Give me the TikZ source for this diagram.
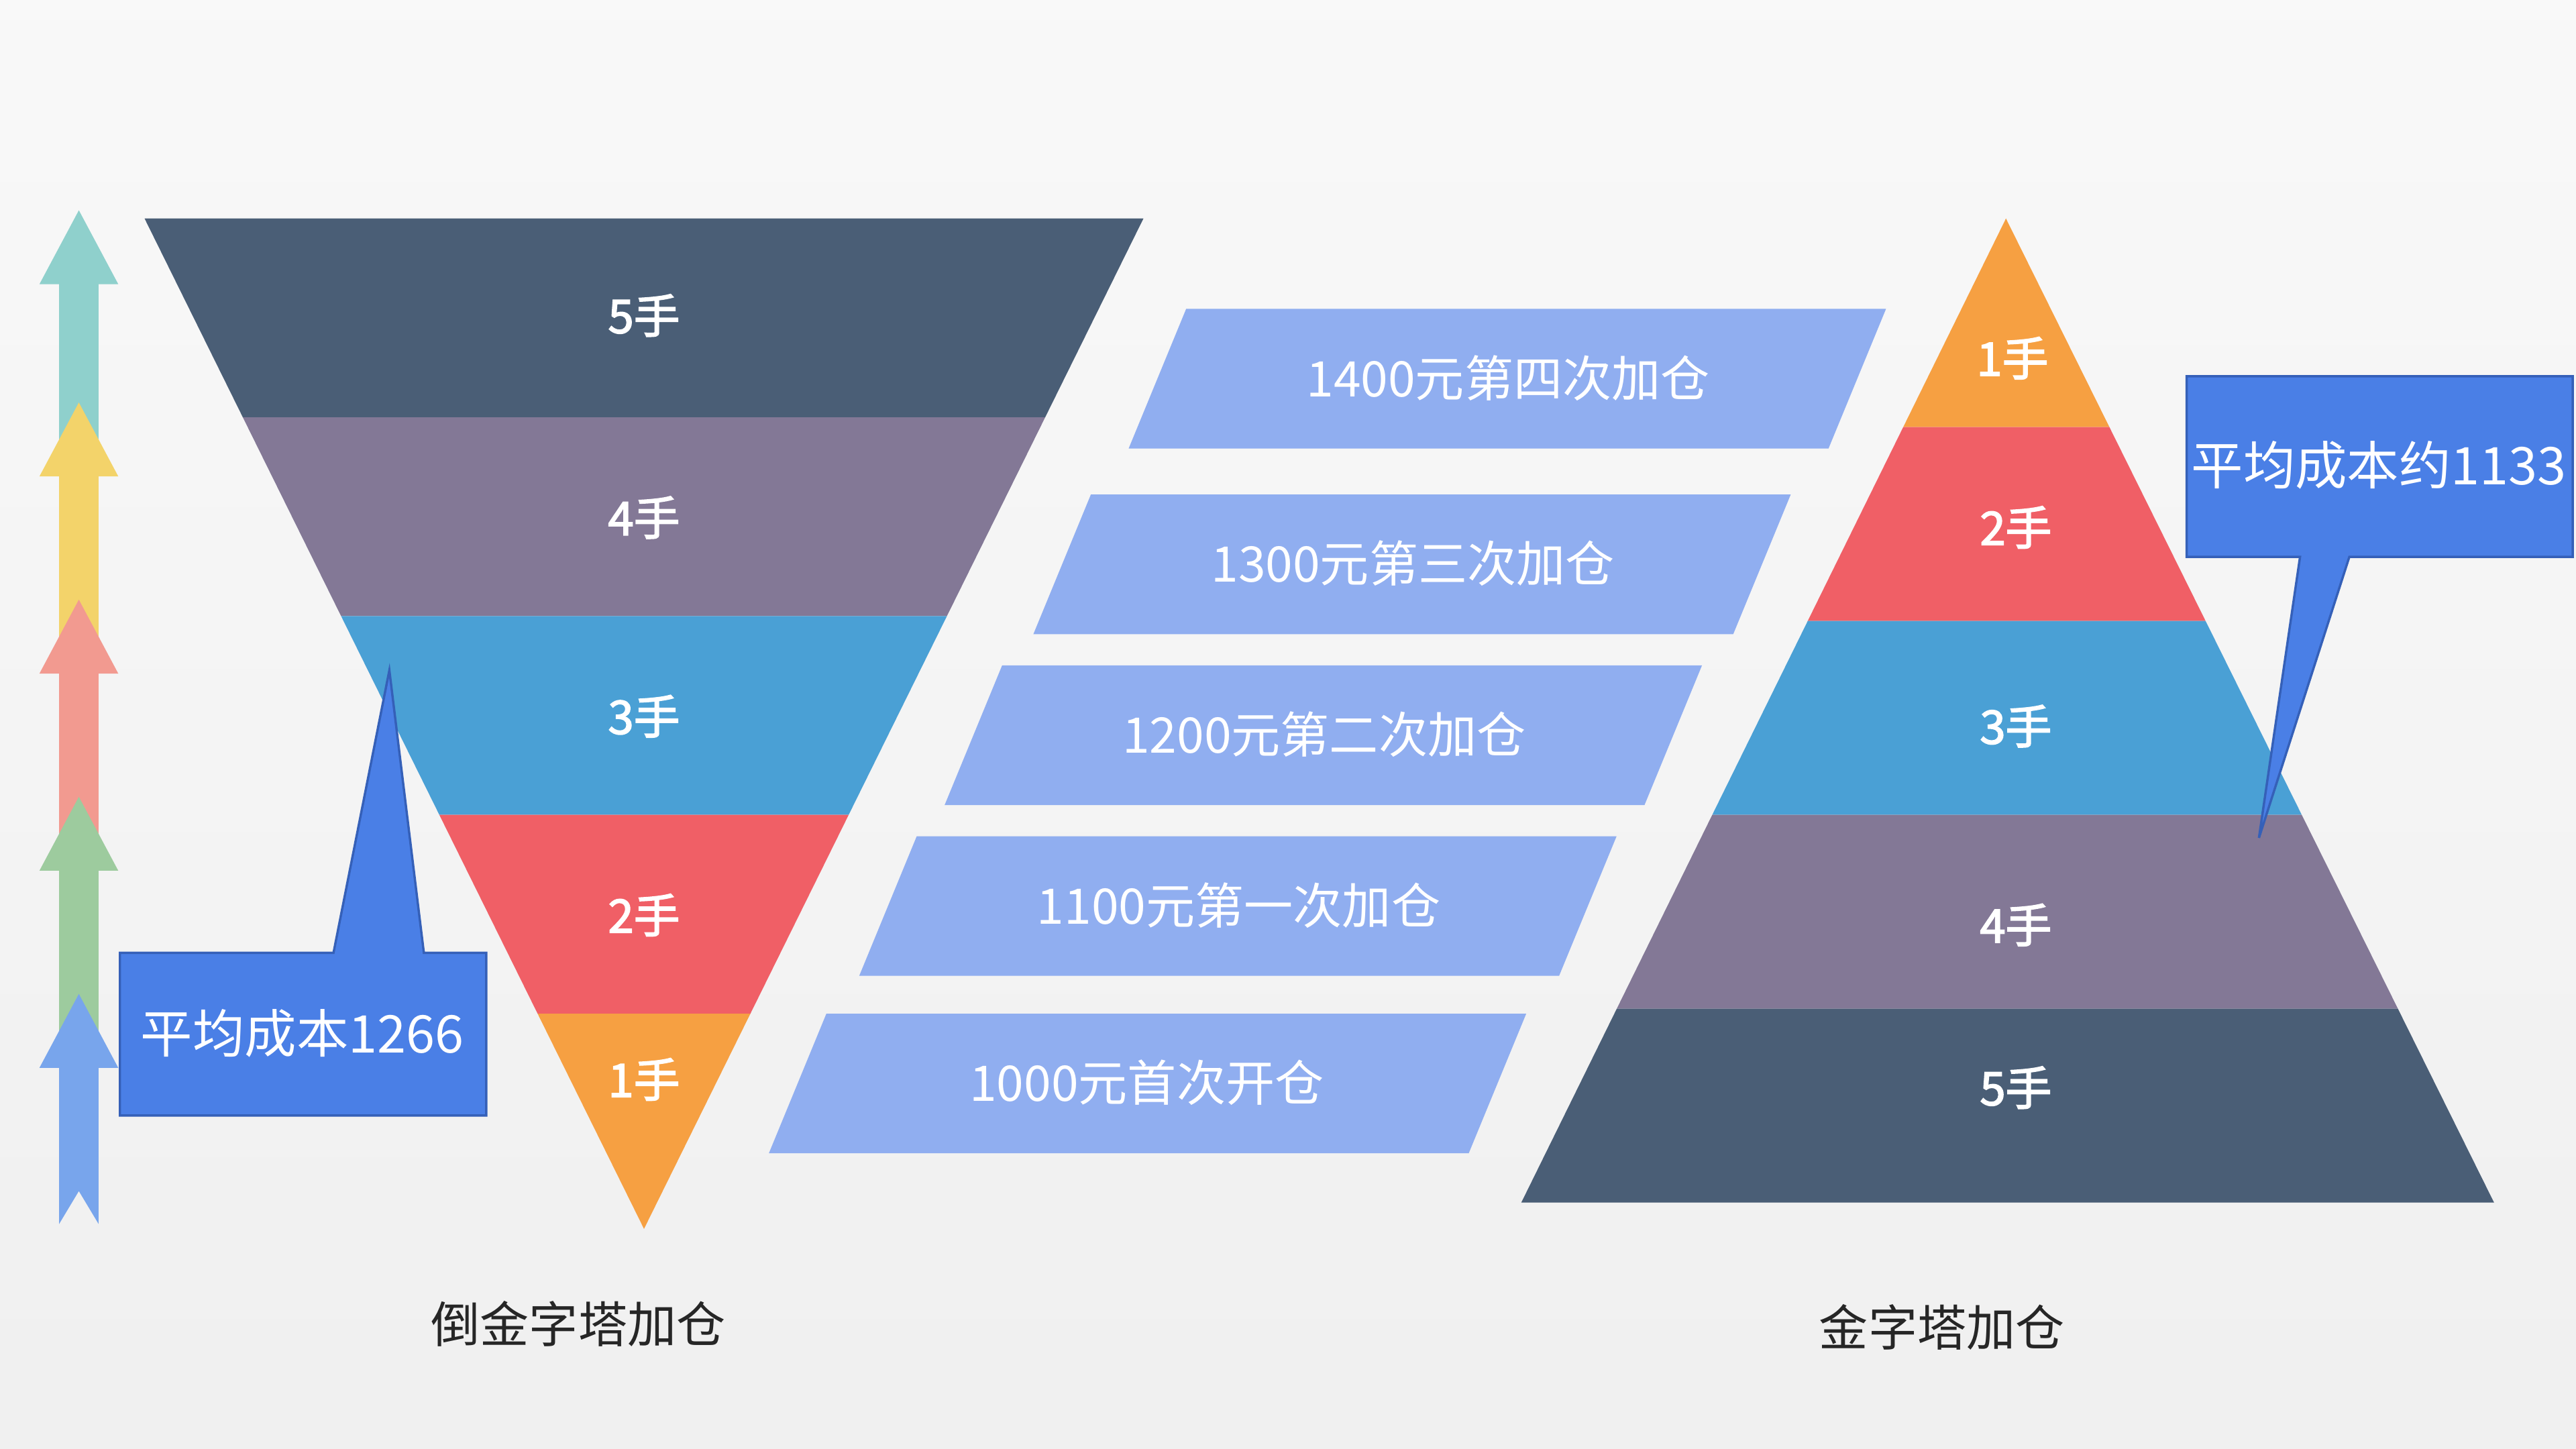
\documentclass[tikz,border=0pt]{standalone}
\usepackage{fontspec}
\setmainfont{Noto Sans CJK SC}
\newfontfamily\bcjk{Noto Sans CJK SC}[FakeBold=2.5]
\definecolor{cA}{HTML}{4A5E76}
\definecolor{cB}{HTML}{837896}
\definecolor{cC}{HTML}{4AA0D5}
\definecolor{cD}{HTML}{F05F66}
\definecolor{cE}{HTML}{F6A042}
\definecolor{pb}{HTML}{90AEF0}
\definecolor{cb}{HTML}{4A7FE6}
\definecolor{cbd}{HTML}{3560B8}
\definecolor{a1}{HTML}{8FD0CC}
\definecolor{a2}{HTML}{F3D36A}
\definecolor{a3}{HTML}{F29A90}
\definecolor{a4}{HTML}{9DCB9E}
\definecolor{a5}{HTML}{78A5EC}
\tikzset{lay/.style={text=white,font=\bcjk\fontsize{16}{18}\selectfont},
 par/.style={text=white,font=\fontsize{17}{19}\selectfont},
 cal/.style={fill=cb,draw=cbd,line width=0.8pt},
 lab/.style={text=black!85,font=\fontsize{17}{19}\selectfont}}
\begin{document}
\begin{tikzpicture}[x=0.02cm,y=-0.02cm]
\shade[top color=white!95!gray,bottom color=white!88!gray] (0,0) rectangle (1568,882);
\useasboundingbox (0,0) rectangle (1568,882);
% arrows
\foreach \t/\b/\c in {128/268/a1,245/388/a2,365/508/a3,485/628/a4,605/745/a5}{
 \fill[\c] (48,\t)--(72,\t+45)--(60,\t+45)--(60,\b)--(48,\b-20)--(36,\b)--(36,\t+45)--(24,\t+45)--cycle;}
% inverted pyramid
\def\L#1{88+0.4943*(#1-133)}
\def\R#1{696-0.4943*(#1-133)}
\foreach \a/\b/\c in {133/254/cA,254/375/cB,375/496/cC,496/617/cD}{
 \fill[\c] ({\L{\a}},\a)--({\R{\a}},\a)--({\R{\b}},\b)--({\L{\b}},\b)--cycle;}
\fill[cE] ({\L{617}},617)--({\R{617}},617)--(392,748)--cycle;
\node[lay] (i5) at (392,192) {5手};
\node[lay] (i4) at (392,315) {4手};
\node[lay] (i3) at (392,436) {3手};
\node[lay] (i2) at (392,557) {2手};
\node[lay] (i1) at (392,657) {1手};
% pyramid
\def\PL#1{1221-0.4925*(#1-133)}
\def\PR#1{1221+0.496*(#1-133)}
\fill[cE] (1221,133)--({\PR{260}},260)--({\PL{260}},260)--cycle;
\foreach \a/\b/\c in {260/378/cD,378/496/cC,496/614/cB,614/732/cA}{
 \fill[\c] ({\PL{\a}},\a)--({\PR{\a}},\a)--({\PR{\b}},\b)--({\PL{\b}},\b)--cycle;}
\node[lay] (p1) at (1225,218) {1手};
\node[lay] (p2) at (1227,321) {2手};
\node[lay] (p3) at (1227,442) {3手};
\node[lay] (p4) at (1227,563) {4手};
\node[lay] (p5) at (1227,662) {5手};
% parallelograms
\foreach \y/\x in {188/722,301/664,405/610,509/558,617/503}{
 \fill[pb] (\x,\y)--(\x+426,\y)--(\x+391,\y+85)--(\x-35,\y+85)--cycle;}
\node[par] (s4) at (918,230) {1400元第四次加仓};
\node[par] (s3) at (860,343) {1300元第三次加仓};
\node[par] (s2) at (806,447) {1200元第二次加仓};
\node[par] (s1) at (754,551) {1100元第一次加仓};
\node[par] (s0) at (698,659) {1000元首次开仓};
% callouts
\draw[cal] (73,580)--(203,580)--(237,408)--(258,580)--(296,580)--(296,679)--(73,679)--cycle;
\node[par,font=\fontsize{18}{20}\selectfont] (c1) at (184,629) {平均成本1266};
\draw[cal] (1331,229)--(1566,229)--(1566,339)--(1430,339)--(1375,510)--(1400,339)--(1331,339)--cycle;
\node[par,font=\fontsize{18}{20}\selectfont] (c2) at (1448,283) {平均成本约1133};
\node[lab] (t1) at (352,806) {倒金字塔加仓};
\node[lab] (t2) at (1182,808) {金字塔加仓};
\end{tikzpicture}
\end{document}
